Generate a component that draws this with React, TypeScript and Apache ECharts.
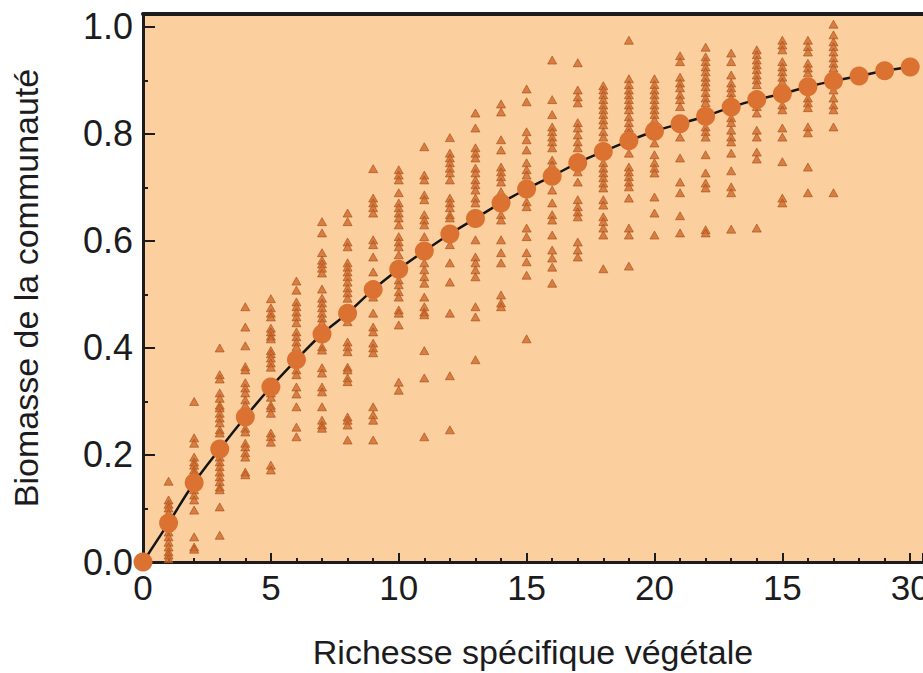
import React, { useEffect, useRef } from 'react';
import * as echarts from 'echarts';

// Mean community biomass for each plant species richness level (0..30)
const richness = [0, 1, 2, 3, 4, 5, 6, 7, 8, 9, 10, 11, 12, 13, 14, 15, 16, 17, 18, 19, 20, 21, 22, 23, 24, 25, 26, 27, 28, 29, 30];
const meanBiomass = [0, 0.073, 0.148, 0.211, 0.271, 0.327, 0.378, 0.426, 0.465, 0.509, 0.547, 0.581, 0.613, 0.642, 0.671, 0.697, 0.721, 0.746, 0.767, 0.787, 0.805, 0.819, 0.833, 0.85, 0.864, 0.875, 0.888, 0.899, 0.908, 0.918, 0.925];

// Individual plots (triangles), one list per richness level 1..27
const plotRichness = [1, 2, 3, 4, 5, 6, 7, 8, 9, 10, 11, 12, 13, 14, 15, 16, 17, 18, 19, 20, 21, 22, 23, 24, 25, 26, 27];
const plotBiomass: number[][] = [
  [0.151, 0.116, 0.108, 0.101, 0.092, 0.065, 0.056, 0.047, 0.037, 0.028, 0.019, 0.013, 0.006],
  [0.3, 0.232, 0.222, 0.196, 0.187, 0.181, 0.172, 0.166, 0.157, 0.135, 0.125, 0.116, 0.097, 0.047, 0.028, 0.024],
  [0.4, 0.35, 0.342, 0.316, 0.306, 0.293, 0.288, 0.278, 0.269, 0.26, 0.247, 0.241, 0.196, 0.187, 0.178, 0.168, 0.159, 0.15, 0.14, 0.135, 0.103, 0.05],
  [0.477, 0.439, 0.404, 0.365, 0.359, 0.335, 0.325, 0.316, 0.303, 0.293, 0.25, 0.243, 0.222, 0.215, 0.204, 0.196, 0.168, 0.163],
  [0.492, 0.475, 0.465, 0.458, 0.437, 0.43, 0.422, 0.417, 0.395, 0.389, 0.381, 0.372, 0.364, 0.316, 0.308, 0.293, 0.288, 0.278, 0.241, 0.234, 0.224, 0.181, 0.172],
  [0.525, 0.508, 0.486, 0.477, 0.467, 0.458, 0.447, 0.43, 0.421, 0.411, 0.402, 0.359, 0.35, 0.327, 0.314, 0.29, 0.252, 0.234],
  [0.636, 0.615, 0.578, 0.564, 0.557, 0.549, 0.54, 0.51, 0.493, 0.484, 0.475, 0.465, 0.456, 0.447, 0.402, 0.396, 0.363, 0.353, 0.327, 0.318, 0.29, 0.265, 0.256, 0.25],
  [0.652, 0.636, 0.598, 0.589, 0.559, 0.551, 0.542, 0.533, 0.523, 0.512, 0.503, 0.493, 0.449, 0.411, 0.402, 0.393, 0.364, 0.359, 0.344, 0.337, 0.271, 0.265, 0.256, 0.228],
  [0.735, 0.68, 0.671, 0.662, 0.652, 0.602, 0.593, 0.57, 0.542, 0.495, 0.465, 0.439, 0.43, 0.409, 0.4, 0.391, 0.29, 0.275, 0.265, 0.228],
  [0.733, 0.723, 0.714, 0.69, 0.671, 0.662, 0.652, 0.643, 0.63, 0.608, 0.598, 0.589, 0.574, 0.527, 0.518, 0.505, 0.495, 0.471, 0.465, 0.443, 0.336, 0.321],
  [0.776, 0.723, 0.714, 0.686, 0.677, 0.649, 0.639, 0.63, 0.608, 0.559, 0.546, 0.533, 0.521, 0.495, 0.477, 0.467, 0.462, 0.395, 0.344, 0.234],
  [0.793, 0.764, 0.755, 0.746, 0.736, 0.727, 0.714, 0.68, 0.671, 0.662, 0.649, 0.643, 0.593, 0.559, 0.523, 0.465, 0.348, 0.247],
  [0.839, 0.811, 0.774, 0.764, 0.755, 0.736, 0.727, 0.714, 0.705, 0.695, 0.68, 0.671, 0.602, 0.57, 0.559, 0.546, 0.533, 0.477, 0.458, 0.378],
  [0.856, 0.841, 0.789, 0.77, 0.738, 0.729, 0.72, 0.71, 0.692, 0.649, 0.639, 0.602, 0.578, 0.559, 0.499, 0.484, 0.477],
  [0.884, 0.86, 0.804, 0.789, 0.77, 0.746, 0.733, 0.723, 0.673, 0.664, 0.624, 0.608, 0.578, 0.561, 0.536, 0.417],
  [0.938, 0.864, 0.836, 0.813, 0.804, 0.794, 0.785, 0.774, 0.751, 0.742, 0.695, 0.671, 0.649, 0.639, 0.611, 0.583, 0.568, 0.551, 0.521],
  [0.933, 0.882, 0.869, 0.858, 0.821, 0.811, 0.798, 0.785, 0.774, 0.757, 0.729, 0.71, 0.677, 0.664, 0.654, 0.645, 0.598, 0.583, 0.57],
  [0.89, 0.882, 0.873, 0.864, 0.854, 0.845, 0.836, 0.826, 0.817, 0.804, 0.794, 0.746, 0.736, 0.727, 0.718, 0.708, 0.699, 0.677, 0.667, 0.645, 0.636, 0.624, 0.611, 0.548],
  [0.975, 0.903, 0.892, 0.882, 0.873, 0.864, 0.854, 0.845, 0.832, 0.821, 0.811, 0.802, 0.764, 0.738, 0.729, 0.72, 0.71, 0.701, 0.68, 0.624, 0.611, 0.553],
  [0.903, 0.892, 0.882, 0.873, 0.864, 0.854, 0.845, 0.836, 0.826, 0.783, 0.761, 0.746, 0.736, 0.727, 0.682, 0.652, 0.611],
  [0.946, 0.935, 0.906, 0.895, 0.886, 0.873, 0.864, 0.851, 0.794, 0.755, 0.71, 0.69, 0.647, 0.615],
  [0.962, 0.944, 0.935, 0.925, 0.916, 0.906, 0.897, 0.888, 0.877, 0.867, 0.858, 0.813, 0.804, 0.794, 0.761, 0.727, 0.708, 0.699, 0.621, 0.615],
  [0.951, 0.935, 0.91, 0.895, 0.886, 0.877, 0.867, 0.83, 0.821, 0.807, 0.794, 0.785, 0.764, 0.731, 0.701, 0.69, 0.622],
  [0.957, 0.948, 0.938, 0.929, 0.92, 0.91, 0.901, 0.892, 0.851, 0.839, 0.807, 0.794, 0.766, 0.753, 0.624],
  [0.975, 0.966, 0.957, 0.935, 0.925, 0.916, 0.906, 0.897, 0.854, 0.845, 0.811, 0.794, 0.748, 0.68, 0.671],
  [0.975, 0.963, 0.953, 0.932, 0.923, 0.914, 0.867, 0.858, 0.849, 0.813, 0.802, 0.738, 0.69],
  [1.005, 0.985, 0.972, 0.963, 0.953, 0.942, 0.932, 0.923, 0.882, 0.867, 0.854, 0.845, 0.813, 0.69],
];

const xTickLabels = ['0', '5', '10', '15', '20', '15', '30'];
const yTickLabels = ['0.0', '0.2', '0.4', '0.6', '0.8', '1.0'];
const xTitle = 'Richesse spécifique végétale';
const yTitle = 'Biomasse de la communauté';

const FONT = '"Liberation Sans", Arial, Helvetica, sans-serif';
const INK = '#1c1c1e';

export default function App() {
  const ref = useRef<HTMLDivElement>(null);

  useEffect(() => {
    if (!ref.current) return;
    document.body.style.margin = '0';
    const chart = echarts.init(ref.current, null, { renderer: 'svg', width: 923, height: 673 });

    const triangles: [number, number][] = [];
    plotBiomass.forEach((col, i) => {
      col.forEach((v) => triangles.push([plotRichness[i], v]));
    });
    const means = richness.map((r, i) => [r, meanBiomass[i]]);

    chart.setOption({
      animation: false,
      backgroundColor: '#ffffff',
      grid: {
        left: 143,
        top: 14,
        width: 780,
        height: 548,
        show: true,
        backgroundColor: '#FCD09E',
        borderWidth: 0,
        containLabel: false,
        outerBoundsMode: 'none',
      },
      xAxis: [
        {
          type: 'value',
          position: 'bottom',
          min: 0,
          max: 30.5,
          interval: 5,
          axisLine: { show: true, onZero: false, lineStyle: { color: INK, width: 3 } },
          axisTick: { show: true, inside: true, length: 9, lineStyle: { color: INK, width: 2 } },
          minorTick: { show: true, splitNumber: 5, length: 4, lineStyle: { color: INK, width: 2 } },
          splitLine: { show: false },
          minorSplitLine: { show: false },
          axisLabel: {
            margin: 8,
            fontSize: 35,
            fontFamily: FONT,
            color: INK,
            formatter: (v: number) => {
              const k = v / 5;
              return Math.abs(k - Math.round(k)) < 1e-6 ? xTickLabels[Math.round(k)] ?? '' : '';
            },
          },
          name: xTitle,
          nameLocation: 'middle',
          nameGap: 73,
          nameTextStyle: { fontSize: 34, fontFamily: FONT, color: INK },
        },
        {
          type: 'value',
          position: 'top',
          min: 0,
          max: 30.5,
          axisLine: { show: true, onZero: false, lineStyle: { color: INK, width: 4 } },
          axisTick: { show: false },
          axisLabel: { show: false },
          splitLine: { show: false },
        },
      ],
      yAxis: {
        type: 'value',
        min: 0,
        max: 1.024,
        interval: 0.2,
        axisLine: { show: true, onZero: false, lineStyle: { color: INK, width: 3 } },
        axisTick: { show: true, inside: true, length: 12, lineStyle: { color: INK, width: 2 } },
        minorTick: { show: true, splitNumber: 2, length: 5, lineStyle: { color: INK, width: 2 } },
        splitLine: { show: false },
        minorSplitLine: { show: false },
        axisLabel: {
          margin: 10,
          fontSize: 36,
          fontFamily: FONT,
          color: INK,
          formatter: (v: number) => {
            const k = v / 0.2;
            return Math.abs(k - Math.round(k)) < 1e-6 ? yTickLabels[Math.round(k)] ?? '' : '';
          },
        },
        name: yTitle,
        nameLocation: 'middle',
        nameGap: 100,
        nameRotate: 90,
        nameTextStyle: { fontSize: 34, fontFamily: FONT, color: INK },
      },
      series: [
        {
          type: 'scatter',
          xAxisIndex: 0,
          data: triangles,
          symbol: 'triangle',
          symbolSize: [9, 8],
          itemStyle: { color: '#CF692A', borderColor: '#A84E1A', borderWidth: 0.8 },
          silent: true,
          z: 2,
        },
        {
          type: 'line',
          xAxisIndex: 0,
          data: means,
          smooth: 0.4,
          clip: false,
          symbol: 'circle',
          symbolSize: 19,
          showSymbol: true,
          lineStyle: { color: '#141414', width: 2.5 },
          itemStyle: { color: '#DB7232', borderWidth: 0 },
          silent: true,
          z: 3,
        },
      ],
    });

    return () => chart.dispose();
  }, []);

  return <div ref={ref} style={{ position: 'fixed', left: 0, top: 0, width: 923, height: 673 }} />;
}
